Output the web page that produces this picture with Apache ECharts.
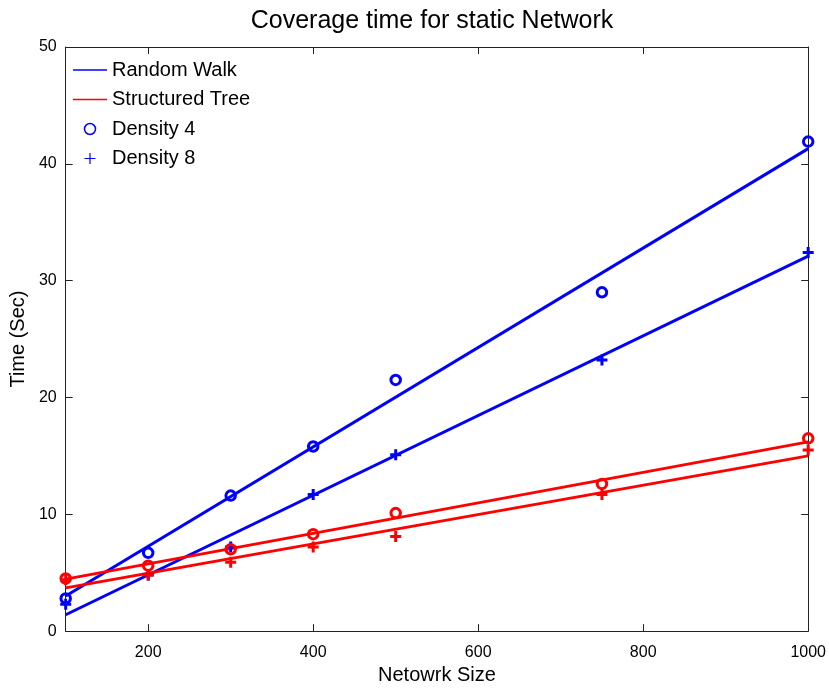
<!DOCTYPE html>
<html>
<head>
<meta charset="utf-8">
<script src="https://cdn.jsdelivr.net/npm/echarts@6/dist/echarts.min.js"></script>
<style>html,body{margin:0;padding:0;background:#fff}#c{width:829px;height:690px}</style>
</head>
<body>
<div id="c"></div>
<script>
// Network sizes (x)
const sizes = [100, 200, 300, 400, 500, 750, 1000];
// Measured coverage times (sec)
const randomWalkD4 = [2.8, 6.7, 11.6, 15.8, 21.5, 29.0, 41.9];
const randomWalkD8 = [2.3, 4.8, 7.2, 11.7, 15.1, 23.2, 32.4];
const treeD4 = [4.5, 5.6, 7.0, 8.3, 10.1, 12.6, 16.5];
const treeD8 = [4.4, 4.8, 5.9, 7.2, 8.1, 11.7, 15.5];
// Linear fit lines (endpoints)
const fitX = [100, 1000];
const randomWalkD4Fit = [3.0, 41.3];
const randomWalkD8Fit = [1.4, 32.1];
const treeD4Fit = [4.45, 16.2];
const treeD8Fit = [3.7, 15.0];
// Tick labels
const xTicks = [200, 400, 600, 800, 1000];

const pair = (xs, ys) => xs.map((x, i) => [x, ys[i]]);
const FONT = 'Liberation Sans, Arial, Helvetica, sans-serif';
const BLUE = '#0000ff', RED = '#ff0000';
const PLUS = 'path://M4,0H7V4H11V7H7V11H4V7H0V4H4Z';
const PLUS_THIN = 'path://M5.35,0H6.65V5.35H12V6.65H6.65V12H5.35V6.65H0V5.35H5.35Z';
const LINE_ICON = 'path://M0,0H34V1.4H0Z';

const chart = echarts.init(document.getElementById('c'), null, {renderer: 'canvas'});
const tickCommon = {show: true, inside: true, length: 7, lineStyle: {color: '#222', width: 1}};
const axisLineCommon = {show: true, onZero: false, lineStyle: {color: '#222', width: 1}};

chart.setOption({
  animation: false,
  backgroundColor: '#fff',
  title: {
    text: 'Coverage time for static Network',
    left: 432, top: 9, padding: 0, textAlign: 'center',
    textStyle: {fontFamily: FONT, fontSize: 25, fontWeight: 'normal', color: '#000'}
  },
  grid: {left: 64, right: 20, top: 47, bottom: 54, containLabel: false},
  legend: {
    orient: 'vertical', left: 68, top: 55, itemGap: 9.5,
    itemWidth: 34, itemHeight: 11, itemTextGap: 6,
    textStyle: {fontFamily: FONT, fontSize: 20, color: '#000'},
    data: [
      {name: 'Random Walk', icon: LINE_ICON, itemStyle: {color: BLUE}},
      {name: 'Structured Tree', icon: LINE_ICON, itemStyle: {color: RED}},
      {name: 'Density 4', icon: 'circle', itemStyle: {color: 'rgba(0,0,0,0)', borderColor: BLUE, borderWidth: 1.5}},
      {name: 'Density 8', icon: PLUS_THIN, itemStyle: {color: BLUE, borderWidth: 0}}
    ]
  },
  xAxis: [{
    type: 'value', min: 100, max: 1000, position: 'bottom',
    name: 'Netowrk Size', nameLocation: 'middle', nameGap: 33,
    nameTextStyle: {fontFamily: FONT, fontSize: 20, color: '#000'},
    axisLine: axisLineCommon,
    axisTick: Object.assign({customValues: xTicks}, tickCommon),
    axisLabel: {customValues: xTicks, margin: 13, fontFamily: FONT, fontSize: 16, color: '#000',
                formatter: v => String(v)},
    splitLine: {show: false}
  }, {
    type: 'value', min: 100, max: 1000, position: 'top',
    axisLine: axisLineCommon,
    axisTick: Object.assign({customValues: xTicks}, tickCommon),
    axisLabel: {show: false},
    splitLine: {show: false}
  }],
  yAxis: [{
    type: 'value', min: 0, max: 50, interval: 10, position: 'left',
    name: 'Time (Sec)', nameLocation: 'middle', nameGap: 30,
    nameTextStyle: {fontFamily: FONT, fontSize: 20, color: '#000'},
    axisLine: axisLineCommon, axisTick: tickCommon,
    axisLabel: {margin: 9, fontFamily: FONT, fontSize: 16, color: '#000'},
    splitLine: {show: false}
  }, {
    type: 'value', min: 0, max: 50, interval: 10, position: 'right',
    axisLine: axisLineCommon, axisTick: tickCommon,
    axisLabel: {show: false}, splitLine: {show: false}
  }],
  series: [
    {name: 'Random Walk', type: 'line', data: pair(fitX, randomWalkD4Fit), showSymbol: false, symbol: 'none',
     lineStyle: {color: BLUE, width: 3}, itemStyle: {color: BLUE}, z: 2},
    {name: 'RW D8 fit', type: 'line', data: pair(fitX, randomWalkD8Fit), showSymbol: false, symbol: 'none',
     lineStyle: {color: BLUE, width: 3}, itemStyle: {color: BLUE}, z: 2},
    {name: 'Structured Tree', type: 'line', data: pair(fitX, treeD4Fit), showSymbol: false, symbol: 'none',
     lineStyle: {color: RED, width: 3}, itemStyle: {color: RED}, z: 2},
    {name: 'ST D8 fit', type: 'line', data: pair(fitX, treeD8Fit), showSymbol: false, symbol: 'none',
     lineStyle: {color: RED, width: 3}, itemStyle: {color: RED}, z: 2},
    {name: 'Density 4', type: 'scatter', data: pair(sizes, randomWalkD4), symbol: 'circle', symbolSize: 9.5,
     itemStyle: {color: 'rgba(0,0,0,0)', borderColor: BLUE, borderWidth: 3, opacity: 1}, z: 3},
    {name: 'Density 8', type: 'scatter', data: pair(sizes, randomWalkD8), symbol: PLUS, symbolSize: 11,
     itemStyle: {color: BLUE, opacity: 1}, z: 3},
    {name: 'ST Density 4', type: 'scatter', data: pair(sizes, treeD4), symbol: 'circle', symbolSize: 9.5,
     itemStyle: {color: 'rgba(0,0,0,0)', borderColor: RED, borderWidth: 3, opacity: 1}, z: 3},
    {name: 'ST Density 8', type: 'scatter', data: pair(sizes, treeD8), symbol: PLUS, symbolSize: 11,
     itemStyle: {color: RED, opacity: 1}, z: 3}
  ]
});
</script>
</body>
</html>
